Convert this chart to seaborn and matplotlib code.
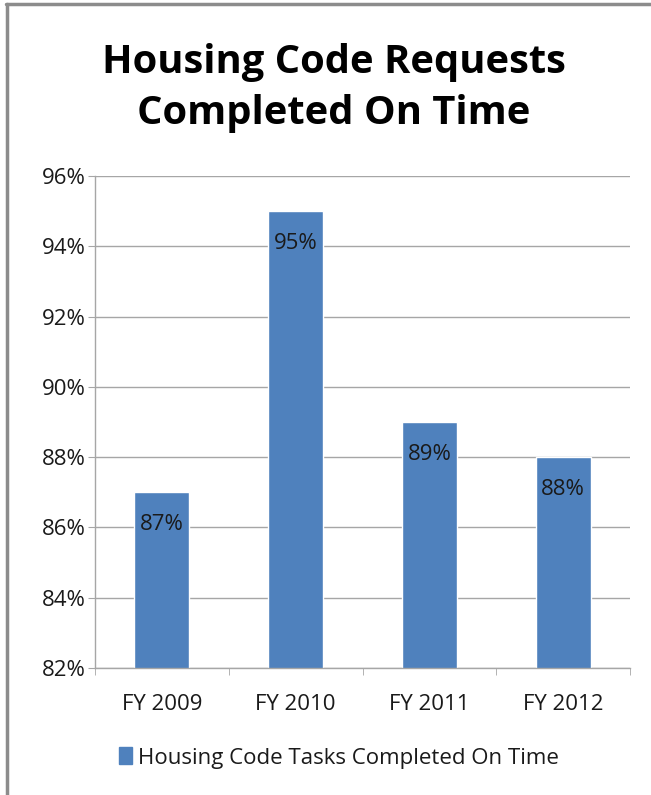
import matplotlib
matplotlib.use('Agg')
import matplotlib.pyplot as plt
from matplotlib.lines import Line2D
from matplotlib.ticker import FixedLocator
import seaborn as sns
import pandas as pd

# chart data
years = ['FY 2009', 'FY 2010', 'FY 2011', 'FY 2012']
pct_on_time = [87, 95, 89, 88]
series_name = 'Housing Code Tasks Completed On Time'
y_ticks = [82, 84, 86, 88, 90, 92, 94, 96]
title = 'Housing Code Requests\nCompleted On Time'

BAR_COLOR = '#4F81BD'
GRID_COLOR = '#A6A6A6'
TEXT_COLOR = '#1a1a1a'
FS = 16

sns.set_style('white')
plt.rcParams['font.family'] = ['Open Sans', 'DejaVu Sans']

W, H = 651, 795
fig = plt.figure(figsize=(W / 100, H / 100), dpi=100)
ax = fig.add_axes([95 / W, 1 - 668 / H, 535 / W, 492 / H])

df = pd.DataFrame({'year': years, 'pct': pct_on_time, 'series': series_name})
sns.barplot(data=df, x='year', y='pct', hue='series', palette=[BAR_COLOR],
            width=0.41, ax=ax, legend=True, saturation=1)

ax.set_ylim(y_ticks[0], y_ticks[-1])
ax.set_xlim(-0.5, len(years) - 0.5)
ax.set_yticks(y_ticks)
ax.set_yticklabels([f'{t}%' for t in y_ticks], fontsize=FS, color=TEXT_COLOR)
ax.set_xticklabels(years, fontsize=FS, color=TEXT_COLOR)
ax.set_xlabel('')
ax.set_ylabel('')

# gridlines and axes in Excel-style gray
ax.yaxis.grid(True, color=GRID_COLOR, linewidth=1)
ax.set_axisbelow(True)
for side in ['top', 'right']:
    ax.spines[side].set_visible(False)
for side in ['left', 'bottom']:
    ax.spines[side].set_color(GRID_COLOR)
    ax.spines[side].set_linewidth(1)

# tick marks: y outward, x at category boundaries
ax.tick_params(axis='y', length=5, color=GRID_COLOR, pad=1.5, left=True)
ax.tick_params(axis='x', which='major', length=0, pad=19)
ax.xaxis.set_minor_locator(FixedLocator([i - 0.5 for i in range(len(years) + 1)]))
ax.tick_params(axis='x', which='minor', length=5, color=GRID_COLOR, bottom=True)

# value labels inside top of bars
ax.bar_label(ax.containers[0], labels=[f'{v}%' for v in pct_on_time],
             padding=-31, fontsize=FS, color=TEXT_COLOR)

# legend at the bottom
leg = ax.get_legend()
leg.remove()
handle = plt.Rectangle((0, 0), 1, 1, color=BAR_COLOR)
fig.legend([handle], [series_name], loc='center', bbox_to_anchor=(0.52, 1 - 758 / H),
           frameon=False, fontsize=FS, handlelength=0.6, handleheight=0.8,
           handletextpad=0.25, labelcolor=TEXT_COLOR)

fig.text(0.513, 1 - 88 / H, title, ha='center', va='center', fontsize=28.7,
         fontweight='bold', linespacing=1.4, color='black')

# border remnants along top and left edges
fig.add_artist(Line2D([6 / W, 1], [1 - 4 / H, 1 - 4 / H], color='#8c8c8c', linewidth=2.5))
fig.add_artist(Line2D([7 / W, 7 / W], [0, 1 - 4 / H], color='#8c8c8c', linewidth=2.5))

fig.savefig('out.png', dpi=100, facecolor='white')
